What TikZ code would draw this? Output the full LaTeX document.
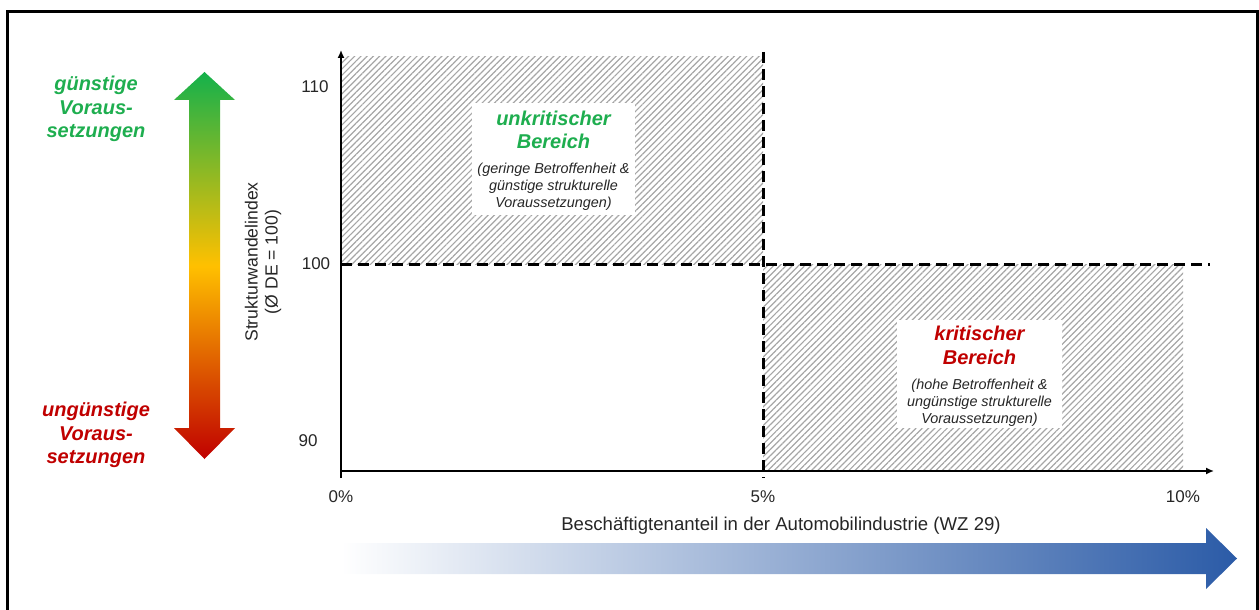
\documentclass[tikz,border=0pt]{standalone}
\usepackage{fontspec}
\setmainfont{Liberation Sans}
\usetikzlibrary{arrows.meta,patterns.meta}
\definecolor{GoodGreen}{HTML}{1EAE4F}
\definecolor{BadRed}{HTML}{C00000}
\definecolor{ArrowGreen}{HTML}{14B14B}
\definecolor{Amber}{HTML}{FFC000}
\definecolor{ShareBlue}{HTML}{2B5BA7}
\definecolor{Hatch}{HTML}{A6A6A6}

\begin{document}
\begin{tikzpicture}[x=0.5pt,y=-0.5pt,>={Latex[length=4pt,width=3.5pt]},
    big/.style={font=\fontsize{10}{11.8}\selectfont\bfseries\itshape,align=center,inner sep=0pt},
    small/.style={font=\fontsize{7.2}{8.5}\selectfont\itshape,align=center,text=black!85,inner sep=0pt},
    lbl/.style={font=\fontsize{8.5}{10}\selectfont,text=black!85,inner sep=0pt},
    hatched/.style={pattern={Lines[angle=45,distance=2.2pt,line width=0.6pt]},pattern color=Hatch},
    limit/.style={line width=1.5pt,dash pattern=on 5.5pt off 3pt}]
  \useasboundingbox (0,0) rectangle (1259,610);
  % frame round the whole chart
  \draw[line width=1.5pt] (7,610) -- (7,12) -- (1257,12) -- (1257,610);

  % favourable / unfavourable scale on the left
  \shade[top color=ArrowGreen,bottom color=BadRed,middle color=Amber]
    (204.5,72) -- (235,100) -- (220,100) -- (220,428) -- (235,428) -- (204.5,459)
    -- (174,428) -- (189,428) -- (189,100) -- (174,100) -- cycle;
  \node[big,text=GoodGreen] (good) at (96,109) {günstige\\Voraus-\\setzungen};
  \node[big,text=BadRed] (bad) at (96,435) {ungünstige\\Voraus-\\setzungen};

  % hatched areas
  \path[hatched] (341,57) rectangle (763,264);
  \path[hatched] (763,264) rectangle (1183,471);

  % axes
  \coordinate (O) at (341,471);
  \coordinate (ytop) at (341,50);
  \coordinate (xend) at (1214,471);
  \draw[line width=0.75pt,->] (341,478) -- (ytop);
  \draw[line width=0.75pt,->] (O) -- (xend);

  % thresholds
  \draw[limit] (763,52) -- (763,478);
  \draw[limit] (341,264) -- (1210,264);

  \node[lbl] (y110) at (315,87) {110};
  \node[lbl] (y100) at (316,264) {100};
  \node[lbl] (y90) at (308,441) {90};
  \node[lbl] (x0) at (341,497) {0\%};
  \node[lbl] (x5) at (763,497) {5\%};
  \node[lbl] (x10) at (1183,497) {10\%};
  \node[lbl,font=\fontsize{8.8}{10}\selectfont,rotate=90,align=center] (ylab) at (263,262) {Strukturwandelindex\\(Ø DE = 100)};
  \node[lbl,font=\fontsize{9.3}{11}\selectfont] (xlab) at (781,526) {Beschäftigtenanteil in der Automobilindustrie (WZ 29)};

  % upper left: uncritical
  \node[fill=white,minimum width=81.5pt,minimum height=56pt] (okbox) at (553.5,159) {};
  \node[big,text=GoodGreen] (oktitle) at (553.5,130) {unkritischer\\Bereich};
  \node[small] (oktext) at (553.5,187) {(geringe Betroffenheit \&\\günstige strukturelle\\Voraussetzungen)};

  % lower right: critical
  \node[fill=white,minimum width=82.5pt,minimum height=54pt] (critbox) at (979.5,374) {};
  \node[big,text=BadRed] (crittitle) at (979.5,345.5) {kritischer\\Bereich};
  \node[small] (crittext) at (979.5,403) {(hohe Betroffenheit \&\\ungünstige strukturelle\\Voraussetzungen)};

  % share arrow at the bottom
  \shade[left color=white,right color=ShareBlue]
    (341,543) -- (1206,543) -- (1206,528) -- (1237,558.5) -- (1206,589) -- (1206,574) -- (341,574) -- cycle;
\end{tikzpicture}
\end{document}
